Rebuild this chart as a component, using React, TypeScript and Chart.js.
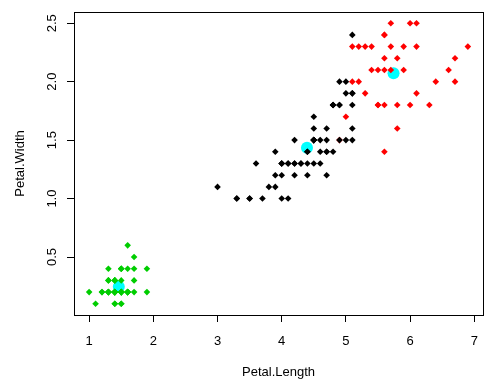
import React, { useEffect, useRef } from "react";
import { Chart, registerables } from "chart.js";

Chart.register(...registerables);

// Iris petal measurements (in data order) and k-means cluster of each flower
const petalLength = [
  1.4, 1.4, 1.3, 1.5, 1.4, 1.7, 1.4, 1.5, 1.4, 1.5,
  1.5, 1.6, 1.4, 1.1, 1.2, 1.5, 1.3, 1.4, 1.7, 1.5,
  1.7, 1.5, 1.0, 1.7, 1.9, 1.6, 1.6, 1.5, 1.4, 1.6,
  1.6, 1.5, 1.5, 1.4, 1.5, 1.2, 1.3, 1.4, 1.3, 1.5,
  1.3, 1.3, 1.3, 1.6, 1.9, 1.4, 1.6, 1.4, 1.5, 1.4,
  4.7, 4.5, 4.9, 4.0, 4.6, 4.5, 4.7, 3.3, 4.6, 3.9,
  3.5, 4.2, 4.0, 4.7, 3.6, 4.4, 4.5, 4.1, 4.5, 3.9,
  4.8, 4.0, 4.9, 4.7, 4.3, 4.4, 4.8, 5.0, 4.5, 3.5,
  3.8, 3.7, 3.9, 5.1, 4.5, 4.5, 4.7, 4.4, 4.1, 4.0,
  4.4, 4.6, 4.0, 3.3, 4.2, 4.2, 4.2, 4.3, 3.0, 4.1,
  6.0, 5.1, 5.9, 5.6, 5.8, 6.6, 4.5, 6.3, 5.8, 6.1,
  5.1, 5.3, 5.5, 5.0, 5.1, 5.3, 5.5, 6.7, 6.9, 5.0,
  5.7, 4.9, 6.7, 4.9, 5.7, 6.0, 4.8, 4.9, 5.6, 5.8,
  6.1, 6.4, 5.6, 5.1, 5.6, 6.1, 5.6, 5.5, 4.8, 5.4,
  5.6, 5.1, 5.1, 5.9, 5.7, 5.2, 5.0, 5.2, 5.4, 5.1,
];

const petalWidth = [
  0.2, 0.2, 0.2, 0.2, 0.2, 0.4, 0.3, 0.2, 0.2, 0.1,
  0.2, 0.2, 0.1, 0.1, 0.2, 0.4, 0.4, 0.3, 0.3, 0.3,
  0.2, 0.4, 0.2, 0.5, 0.2, 0.2, 0.4, 0.2, 0.2, 0.2,
  0.2, 0.4, 0.1, 0.2, 0.2, 0.2, 0.2, 0.1, 0.2, 0.2,
  0.3, 0.3, 0.2, 0.6, 0.4, 0.3, 0.2, 0.2, 0.2, 0.2,
  1.4, 1.5, 1.5, 1.3, 1.5, 1.3, 1.6, 1.0, 1.3, 1.4,
  1.0, 1.5, 1.0, 1.4, 1.3, 1.4, 1.5, 1.0, 1.5, 1.1,
  1.8, 1.3, 1.5, 1.2, 1.3, 1.4, 1.4, 1.7, 1.5, 1.0,
  1.1, 1.0, 1.2, 1.6, 1.5, 1.6, 1.5, 1.3, 1.3, 1.3,
  1.2, 1.4, 1.2, 1.0, 1.3, 1.2, 1.3, 1.3, 1.1, 1.3,
  2.5, 1.9, 2.1, 1.8, 2.2, 2.1, 1.7, 1.8, 1.8, 2.5,
  2.0, 1.9, 2.1, 2.0, 2.4, 2.3, 1.8, 2.2, 2.3, 1.5,
  2.3, 2.0, 2.0, 1.8, 2.1, 1.8, 1.8, 1.8, 2.1, 1.6,
  1.9, 2.0, 2.2, 1.5, 1.4, 2.3, 2.4, 1.8, 1.8, 2.1,
  2.4, 2.3, 1.9, 2.3, 2.5, 2.3, 1.9, 2.0, 2.3, 1.8,
];

// 1 = green cluster, 2 = black cluster, 3 = red cluster
const cluster = [
  1, 1, 1, 1, 1, 1, 1, 1, 1, 1,
  1, 1, 1, 1, 1, 1, 1, 1, 1, 1,
  1, 1, 1, 1, 1, 1, 1, 1, 1, 1,
  1, 1, 1, 1, 1, 1, 1, 1, 1, 1,
  1, 1, 1, 1, 1, 1, 1, 1, 1, 1,
  2, 2, 3, 2, 2, 2, 2, 2, 2, 2,
  2, 2, 2, 2, 2, 2, 2, 2, 2, 2,
  2, 2, 2, 2, 2, 2, 2, 3, 2, 2,
  2, 2, 2, 2, 2, 2, 2, 2, 2, 2,
  2, 2, 2, 2, 2, 2, 2, 2, 2, 2,
  3, 2, 3, 3, 3, 3, 2, 3, 3, 3,
  3, 3, 3, 2, 2, 3, 3, 3, 3, 2,
  3, 2, 3, 2, 3, 3, 2, 2, 3, 3,
  3, 3, 3, 2, 3, 3, 3, 3, 2, 3,
  3, 3, 2, 3, 3, 3, 2, 3, 3, 2,
];

const clusterColors: Record<number, string> = { 1: "#00CD00", 2: "#000000", 3: "#FF0000" };

// cluster centres (petal length, petal width)
const centerLength = [1.462, 4.393548, 5.742105];
const centerWidth = [0.246, 1.433871, 2.071053];

const xTicks = [1, 2, 3, 4, 5, 6, 7];
const xTickLabels = ["1", "2", "3", "4", "5", "6", "7"];
const yTicks = [0.5, 1.0, 1.5, 2.0, 2.5];
const yTickLabels = ["0.5", "1.0", "1.5", "2.0", "2.5"];

const xTitle = "Petal.Length";
const yTitle = "Petal.Width";

const FONT = "'Liberation Sans', Arial, sans-serif";

export default function App() {
  const canvasRef = useRef<HTMLCanvasElement | null>(null);

  useEffect(() => {
    document.body.style.margin = "0";
    const canvas = canvasRef.current;
    if (!canvas) return;

    const boxPlugin = {
      id: "rbox",
      afterDraw(chart: any) {
        const { ctx, chartArea } = chart;
        ctx.save();
        ctx.strokeStyle = "#000";
        ctx.lineWidth = 1;
        ctx.strokeRect(
          Math.round(chartArea.left) + 0.5,
          Math.round(chartArea.top) + 0.5,
          Math.round(chartArea.right) - Math.round(chartArea.left),
          Math.round(chartArea.bottom) - Math.round(chartArea.top)
        );
        ctx.restore();
      },
    };

    const chart = new Chart(canvas, {
      type: "scatter",
      data: {
        datasets: [
          {
            label: "points",
            data: petalLength.map((x, i) => ({ x, y: petalWidth[i] })),
            backgroundColor: cluster.map((c) => clusterColors[c]),
            pointStyle: "rectRot",
            pointRadius: 3.3,
            borderWidth: 0,
          },
          {
            label: "centers",
            data: centerLength.map((x, i) => ({ x, y: centerWidth[i] })),
            backgroundColor: "#00FFFF",
            pointStyle: "circle",
            pointRadius: 6,
            borderWidth: 0,
          },
        ],
      },
      plugins: [boxPlugin],
      options: {
        responsive: false,
        animation: false,
        events: [],
        layout: { padding: { top: 12, right: 17, left: 0, bottom: 0 } },
        plugins: {
          legend: { display: false },
          tooltip: { enabled: false },
        },
        scales: {
          x: {
            type: "linear",
            min: 0.764,
            max: 7.136,
            afterBuildTicks: (scale: any) => {
              scale.ticks = xTicks.map((v) => ({ value: v }));
            },
            afterFit: (scale: any) => {
              scale.height = 71;
              scale.paddingLeft = 0;
              scale.paddingRight = 0;
            },
            grid: {
              display: true,
              drawOnChartArea: false,
              drawTicks: true,
              tickLength: 7,
              color: "#000",
            },
            border: { display: false },
            ticks: {
              padding: 12,
              color: "#000",
              font: { family: FONT, size: 13 },
              maxRotation: 0,
              autoSkip: false,
              callback: (v: any) => {
                const i = xTicks.indexOf(Number(v));
                return i >= 0 ? xTickLabels[i] : "";
              },
            },
            title: {
              display: true,
              text: xTitle,
              color: "#000",
              font: { family: FONT, size: 13 },
              padding: { top: 0, bottom: 6 },
            },
          },
          y: {
            type: "linear",
            min: 0.004,
            max: 2.596,
            afterBuildTicks: (scale: any) => {
              scale.ticks = yTicks.map((v) => ({ value: v }));
            },
            afterFit: (scale: any) => {
              scale.width = 74;
              scale.paddingTop = 0;
              scale.paddingBottom = 0;
            },
            grid: {
              display: true,
              drawOnChartArea: false,
              drawTicks: true,
              tickLength: 7,
              color: "#000",
            },
            border: { display: false },
            ticks: {
              padding: 6,
              color: "#000",
              font: { family: FONT, size: 13 },
              minRotation: 90,
              maxRotation: 90,
              crossAlign: "center",
              autoSkip: false,
              callback: (v: any) => {
                const i = yTicks.indexOf(Number(v));
                return i >= 0 ? yTickLabels[i] : "";
              },
            },
            title: {
              display: true,
              text: yTitle,
              color: "#000",
              font: { family: FONT, size: 13 },
              padding: { top: 13, bottom: 0 },
            },
          },
        },
      } as any,
    });

    return () => chart.destroy();
  }, []);

  return (
    <div style={{ width: 500, height: 386, background: "#fff" }}>
      <canvas ref={canvasRef} width={500} height={386} style={{ display: "block" }} />
    </div>
  );
}
